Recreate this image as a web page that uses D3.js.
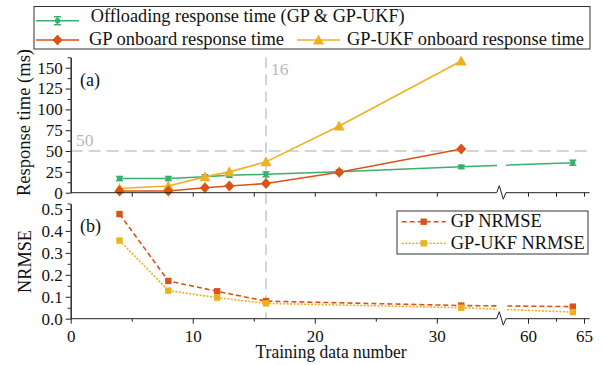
<!DOCTYPE html>
<html><head><meta charset="utf-8">
<script src="https://cdn.jsdelivr.net/npm/d3@7"></script>
<style>
body{margin:0;background:#fff}
text{font-family:"Liberation Serif","Times New Roman",serif;fill:#111}
</style>
</head><body><svg id="c" width="604" height="365"></svg>
<script>
// ---- data ----
const offX = [4, 8, 11, 13, 16, 22, 32, 64];
const offY = [17, 17, 19, 21, 22, 25, 31, 36];
const offErr = [2.5, 2.5, 2.5, 2.5, 3, 2.5, 2, 3];
const gpX = [4, 8, 11, 13, 16, 22, 32];
const gpY = [2, 2, 6, 8, 11, 24.5, 52.5];
const ukfY = [5, 8, 19, 25, 37, 80, 158];
const nX = [4, 8, 12, 16, 32, 64];
const gpN = [0.477, 0.172, 0.125, 0.08, 0.06, 0.055];
const ukfN = [0.356, 0.128, 0.096, 0.07, 0.05, 0.03];
const xMajor = [0, 10, 20, 30, 60, 65];
const xMinor = [5, 15, 25, 62.5];
const yAMajor = [0, 25, 50, 75, 100, 125, 150];
const yAMinor = [12.5, 37.5, 62.5, 87.5, 112.5, 137.5, 162.5];
const yBMajor = [0, 0.1, 0.2, 0.3, 0.4, 0.5];
const yBMinor = [0.05, 0.15, 0.25, 0.35, 0.45, 0.525];
const refX = 16, refY = 50;

const C_GREEN = "#3aae6e", C_ORANGE = "#D95319", C_YELLOW = "#EDB120", C_GRAY = "#c8c8c8";
const FONT = '"Liberation Serif","Times New Roman",serif';

const svg = d3.select("#c");
const x = d3.scaleLinear().domain([0, 35.3, 58, 65.5]).range([70.7, 501.5, 505.6, 589.6]);
const yA = d3.scaleLinear().domain([0, 162.5]).range([192.7, 57.3]);
const yB = d3.scaleLinear().domain([0, 0.525]).range([318.7, 203.5]);

// reference lines
svg.append("line").attr("x1", x(refX)).attr("x2", x(refX)).attr("y1", yA(162.5)).attr("y2", yB(0))
  .attr("stroke", C_GRAY).attr("stroke-width", 1.5).attr("stroke-dasharray", "11,6");
svg.append("line").attr("x1", x(0)).attr("x2", x(65.5)).attr("y1", yA(refY)).attr("y2", yA(refY))
  .attr("stroke", C_GRAY).attr("stroke-width", 1.5).attr("stroke-dasharray", "12,6");
svg.append("text").attr("x", x(refX) + 5).attr("y", 75).attr("font-size", 17.5).style("fill", "#b8b8b8").text(refX);
svg.append("text").attr("x", 76).attr("y", 146).attr("font-size", 17.5).style("fill", "#b8b8b8").text(refY);

// lines
function line(xs, ys, ysc) {
  return d3.line().x((d, i) => x(xs[i])).y(d => ysc(d))(ys);
}
svg.append("path").attr("d", line(offX, offY, yA)).attr("fill", "none").attr("stroke", C_GREEN).attr("stroke-width", 1.5);
svg.append("path").attr("d", line(gpX, gpY, yA)).attr("fill", "none").attr("stroke", C_ORANGE).attr("stroke-width", 1.6);
svg.append("path").attr("d", line(gpX, ukfY, yA)).attr("fill", "none").attr("stroke", C_YELLOW).attr("stroke-width", 1.6);
svg.append("path").attr("d", line(nX, gpN, yB)).attr("fill", "none").attr("stroke", C_ORANGE).attr("stroke-width", 1.6).attr("stroke-dasharray", "5,3");
svg.append("path").attr("d", line(nX, ukfN, yB)).attr("fill", "none").attr("stroke", C_YELLOW).attr("stroke-width", 1.6).attr("stroke-dasharray", "2,1.5");

// gaps at axis break
svg.append("rect").attr("x", 497).attr("y", 155).attr("width", 9).attr("height", 30).attr("fill", "#fff");
svg.append("rect").attr("x", 497).attr("y", 294).attr("width", 9).attr("height", 22).attr("fill", "#fff");

// markers
const diamond = (cx, cy) => `M${cx},${cy-5.5}L${cx+5},${cy}L${cx},${cy+5.5}L${cx-5},${cy}Z`;
const tri = (cx, cy) => `M${cx},${cy-5.5}L${cx+5.5},${cy+4.5}L${cx-5.5},${cy+4.5}Z`;
const sq = (cx, cy) => `M${cx-3.2},${cy-3.2}h6.4v6.4h-6.4Z`;

function errBar(g, cx, cy, e) {
  g.append("line").attr("x1", cx).attr("x2", cx).attr("y1", cy - e).attr("y2", cy + e).attr("stroke", C_GREEN).attr("stroke-width", 1.5);
  g.append("line").attr("x1", cx - 3.5).attr("x2", cx + 3.5).attr("y1", cy - e).attr("y2", cy - e).attr("stroke", C_GREEN).attr("stroke-width", 1.5);
  g.append("line").attr("x1", cx - 3.5).attr("x2", cx + 3.5).attr("y1", cy + e).attr("y2", cy + e).attr("stroke", C_GREEN).attr("stroke-width", 1.5);
  g.append("circle").attr("cx", cx).attr("cy", cy).attr("r", 2.6).attr("fill", C_GREEN);
}
const gOff = svg.append("g");
offX.forEach((v, i) => errBar(gOff, x(v), yA(offY[i]), yA(0) - yA(offErr[i])));
svg.append("g").selectAll("path").data(ukfY).join("path").attr("d", (d, i) => tri(x(gpX[i]), yA(d))).attr("fill", C_YELLOW);
svg.append("g").selectAll("path").data(gpY).join("path").attr("d", (d, i) => diamond(x(gpX[i]), yA(d))).attr("fill", C_ORANGE);
svg.append("g").selectAll("path").data(gpN).join("path").attr("d", (d, i) => sq(x(nX[i]), yB(d))).attr("fill", C_ORANGE);
svg.append("g").selectAll("path").data(ukfN).join("path").attr("d", (d, i) => sq(x(nX[i]), yB(d))).attr("fill", C_YELLOW);

// axes
function styleAxis(g) {
  g.attr("font-family", FONT);
  g.selectAll("text").attr("font-size", 17).style("fill", "#111");
  g.selectAll("line").attr("stroke", "#222");
  g.selectAll(".domain").attr("stroke", "#222");
}
svg.append("g").attr("transform", `translate(${x(0)},0)`)
  .call(d3.axisLeft(yA).tickValues(yAMajor).tickSize(5).tickPadding(3).tickSizeOuter(0).tickFormat(d3.format("d"))).call(styleAxis);
svg.append("g").attr("transform", `translate(${x(0)},0)`)
  .call(d3.axisLeft(yA).tickValues(yAMinor).tickSize(3).tickSizeOuter(0).tickFormat("")).call(styleAxis);
svg.append("g").attr("transform", `translate(${x(0)},0)`)
  .call(d3.axisLeft(yB).tickValues(yBMajor).tickSize(5).tickPadding(3).tickSizeOuter(0).tickFormat(d3.format(".1f"))).call(styleAxis);
svg.append("g").attr("transform", `translate(${x(0)},0)`)
  .call(d3.axisLeft(yB).tickValues(yBMinor).tickSize(3).tickSizeOuter(0).tickFormat("")).call(styleAxis);

function brokenDomain(y0) {
  return `M${x(0)},${y0}H496.7L499.3,${y0-7}L503.3,${y0+6.5}L506,${y0}H${x(65.5)}`;
}
const gxA = svg.append("g").attr("transform", `translate(0,${yA(0)})`)
  .call(d3.axisBottom(x).tickValues([5, 10, 15, 20, 25, 30, 60, 62.5, 65]).tickSize(4).tickSizeOuter(0).tickFormat("")).call(styleAxis);
gxA.select(".domain").remove();
svg.append("path").attr("d", brokenDomain(yA(0))).attr("fill", "none").attr("stroke", "#222").attr("stroke-width", 1);

const gxB = svg.append("g").attr("transform", `translate(0,${yB(0)})`)
  .call(d3.axisBottom(x).tickValues(xMajor).tickSize(5).tickPadding(6).tickSizeOuter(0).tickFormat(d3.format("d"))).call(styleAxis);
gxB.select(".domain").remove();
const gxB2 = svg.append("g").attr("transform", `translate(0,${yB(0)})`)
  .call(d3.axisBottom(x).tickValues(xMinor).tickSize(3).tickSizeOuter(0).tickFormat("")).call(styleAxis);
gxB2.select(".domain").remove();
svg.append("path").attr("d", brokenDomain(yB(0))).attr("fill", "none").attr("stroke", "#222").attr("stroke-width", 1);

// titles
function txt(sel, len) { return sel.attr("textLength", len).attr("lengthAdjust", "spacingAndGlyphs"); }
txt(svg.append("text").attr("transform", "translate(30,122.5) rotate(-90)").attr("text-anchor", "middle").attr("font-size", 18).text("Response time (ms)"), 147);
txt(svg.append("text").attr("transform", "translate(30.5,261.5) rotate(-90)").attr("text-anchor", "middle").attr("font-size", 18).text("NRMSE"), 63);
txt(svg.append("text").attr("x", 331).attr("y", 358).attr("text-anchor", "middle").attr("font-size", 18).text("Training data number"), 151);
svg.append("text").attr("x", 80).attr("y", 86).attr("font-size", 18).text("(a)");
svg.append("text").attr("x", 80).attr("y", 232).attr("font-size", 18).text("(b)");

// legends
const lg = svg.append("g");
lg.append("rect").attr("x", 34).attr("y", 6.5).attr("width", 556).attr("height", 42.5).attr("fill", "#fff").attr("stroke", "#333");
function legItem(x1, x2, y, color, marker, label, tx, ty, len, dash) {
  lg.append("line").attr("x1", x1).attr("x2", x2).attr("y1", y).attr("y2", y).attr("stroke", color).attr("stroke-width", 1.5).attr("stroke-dasharray", dash || null);
  marker((x1 + x2) / 2, y);
  txt(lg.append("text").attr("x", tx).attr("y", ty).attr("font-size", 18).text(label), len);
}
legItem(36, 79, 20.7, C_GREEN, (cx, cy) => errBar(lg, cx, cy, 4), "Offloading response time (GP & GP-UKF)", 90.7, 22, 314);
legItem(36, 79, 40, C_ORANGE, (cx, cy) => lg.append("path").attr("d", diamond(cx, cy)).attr("fill", C_ORANGE), "GP onboard response time", 89, 44.5, 195);
legItem(297, 340, 40, C_YELLOW, (cx, cy) => lg.append("path").attr("d", tri(cx, cy)).attr("fill", C_YELLOW), "GP-UKF onboard response time", 347, 44.5, 237);

lg.append("rect").attr("x", 397).attr("y", 211).attr("width", 191).attr("height", 43).attr("fill", "#fff").attr("stroke", "#333");
legItem(401.7, 445.7, 221.7, C_ORANGE, (cx, cy) => lg.append("path").attr("d", sq(cx, cy)).attr("fill", C_ORANGE), "GP NRMSE", 450.7, 227, 91, "5,3");
legItem(401.7, 445.7, 243.3, C_YELLOW, (cx, cy) => lg.append("path").attr("d", sq(cx, cy)).attr("fill", C_YELLOW), "GP-UKF NRMSE", 450.7, 249, 134, "2,1.5");
</script></body></html>
